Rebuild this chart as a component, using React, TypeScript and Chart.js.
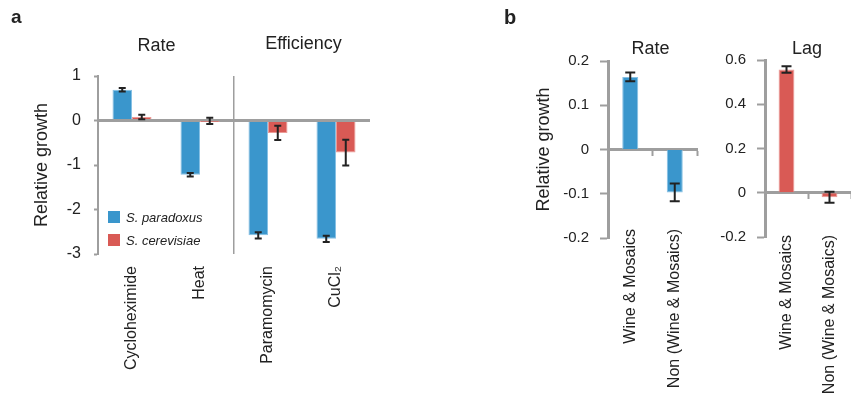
import React, { useEffect, useRef } from 'react';
import { Chart, registerables } from 'chart.js';
Chart.register(...registerables);

const FONT = '"Liberation Sans", Arial, Helvetica, sans-serif';
Chart.defaults.font.family = FONT;

// ---------- data: panel a ----------
const categoriesA = ['Cycloheximide', 'Heat', 'Paramomycin', 'CuCl\u2082'];
const seriesNames = ['S. paradoxus', 'S. cerevisiae'];
const paradoxusA = [0.69, -1.22, -2.58, -2.66];
const paradoxusErrA = [0.04, 0.04, 0.07, 0.07];
const cerevisiaeA = [0.08, -0.01, -0.28, -0.72];
const cerevisiaeErrA = [0.05, 0.07, 0.16, 0.29];
const groupTitlesA = ['Rate', 'Efficiency'];
const groupFirstA = [0, 2];
const groupLastA = [1, 3];
const ticksA = [-3, -2, -1, 0, 1];

// ---------- data: panel b ----------
const categoriesB = ['Wine & Mosaics', 'Non (Wine & Mosaics)'];
const rateB = [0.164, -0.097];
const rateErrB = [0.01, 0.02];
const lagB = [0.557, -0.02];
const lagErrB = [0.015, 0.025];
const ticksRate = [-0.2, -0.1, 0, 0.1, 0.2];
const ticksLag = [-0.2, 0, 0.2, 0.4, 0.6];
const titlesB = ['Rate', 'Lag'];

// ---------- styles ----------
const BLUE = '#3a96cc';
const BLUE_EDGE = '#86c0e4';
const RED = '#d95a55';
const RED_EDGE = '#eb9b97';
const AXIS = '#9e9e9e';
const TEXT = '#222222';

const errorBarPlugin = (cap: number, width: number) => ({
  id: 'errorBars',
  afterDatasetsDraw(chart: any) {
    const ctx = chart.ctx;
    const y = chart.scales.y;
    chart.data.datasets.forEach((ds: any, di: number) => {
      const errs = ds.errors;
      if (!errs) return;
      const meta = chart.getDatasetMeta(di);
      meta.data.forEach((bar: any, i: number) => {
        const v = ds.data[i];
        const e = errs[i];
        const x = bar.x;
        const y1 = y.getPixelForValue(v + e);
        const y2 = y.getPixelForValue(v - e);
        ctx.save();
        ctx.strokeStyle = TEXT;
        ctx.lineWidth = width;
        ctx.beginPath();
        ctx.moveTo(x, y1);
        ctx.lineTo(x, y2);
        ctx.moveTo(x - cap / 2, y1);
        ctx.lineTo(x + cap / 2, y1);
        ctx.moveTo(x - cap / 2, y2);
        ctx.lineTo(x + cap / 2, y2);
        ctx.stroke();
        ctx.restore();
      });
    });
  },
});

type TextItem = { text: string; font: string; x: (c: any) => number; y: number; align?: CanvasTextAlign };
const textPlugin = (items: TextItem[]) => ({
  id: 'panelText',
  afterDraw(chart: any) {
    const ctx = chart.ctx;
    ctx.save();
    ctx.fillStyle = TEXT;
    ctx.textBaseline = 'alphabetic';
    items.forEach((it) => {
      ctx.font = it.font;
      ctx.textAlign = it.align || 'center';
      ctx.fillText(it.text, it.x(chart), it.y);
    });
    ctx.restore();
  },
});

const legendPlugin = (x: number, y: number, gap: number) => ({
  id: 'insideLegend',
  afterDraw(chart: any) {
    const ctx = chart.ctx;
    ctx.save();
    chart.data.datasets.forEach((ds: any, i: number) => {
      const top = y + i * gap;
      ctx.fillStyle = ds.backgroundColor;
      ctx.fillRect(x, top, 12, 12);
      ctx.fillStyle = TEXT;
      ctx.font = `italic 13px ${FONT}`;
      ctx.textAlign = 'left';
      ctx.textBaseline = 'middle';
      ctx.fillText(ds.label, x + 18, top + 7.5);
    });
    ctx.restore();
  },
});

function makeYScale(ticks: number[], o: any) {
  return {
    type: 'linear',
    min: ticks[0],
    max: ticks[ticks.length - 1],
    afterBuildTicks: (s: any) => {
      s.ticks = ticks.map((v) => ({ value: v }));
    },
    afterFit: (s: any) => {
      s.width = o.width;
    },
    ticks: { font: { size: o.fontSize }, color: TEXT, padding: o.padding },
    grid: {
      color: (c: any) => (o.zeroGrid && c.tick && c.tick.value === 0 ? AXIS : 'rgba(0,0,0,0)'),
      lineWidth: (c: any) => (o.zeroGrid && c.tick && c.tick.value === 0 ? 3 : 1),
      tickColor: AXIS,
      tickLength: o.tickLength,
      tickWidth: 2,
    },
    border: { display: true, color: AXIS, width: o.borderWidth },
    title: o.title
      ? {
          display: true,
          text: o.title,
          font: { size: 18 },
          color: TEXT,
          padding: { top: o.titlePad, bottom: 0 },
        }
      : { display: false },
  };
}

function makeLabelScale(labels: string[], fontSize: number, padding: number, position: any, height?: number) {
  return {
    type: 'category',
    position,
    labels,
    offset: true,
    afterFit: (s: any) => {
      if (height !== undefined) s.height = height;
    },
    grid: { display: false },
    border: { display: false },
    ticks: { font: { size: fontSize }, color: TEXT, padding, minRotation: 90, maxRotation: 90, autoSkip: false },
  };
}

function makeZeroScale(labels: string[]) {
  return {
    type: 'category',
    position: { y: 0 },
    labels,
    offset: true,
    ticks: { display: false },
    grid: {
      display: true,
      offset: true,
      drawOnChartArea: false,
      drawTicks: true,
      tickLength: 5,
      tickColor: AXIS,
      tickWidth: 2,
    },
    border: { display: true, color: AXIS, width: 3 },
  };
}

const baseOptions = {
  animation: false,
  responsive: false,
  devicePixelRatio: 1,
};

function configA(): any {
  return {
    type: 'bar',
    data: {
      labels: categoriesA,
      datasets: [
        {
          label: seriesNames[0],
          data: paradoxusA,
          errors: paradoxusErrA,
          backgroundColor: BLUE,
          borderColor: BLUE_EDGE,
          borderWidth: 1,
          categoryPercentage: 0.574,
          barPercentage: 1,
        },
        {
          label: seriesNames[1],
          data: cerevisiaeA,
          errors: cerevisiaeErrA,
          backgroundColor: RED,
          borderColor: RED_EDGE,
          borderWidth: 1,
          categoryPercentage: 0.574,
          barPercentage: 1,
        },
      ],
    },
    options: {
      ...baseOptions,
      layout: { padding: { top: 76, right: 10, left: 0, bottom: 0 } },
      plugins: { legend: { display: false }, tooltip: { enabled: false }, title: { display: false } },
      scales: {
        x: {
          ...makeLabelScale(categoriesA, 16, 12, 'bottom', 140),
          grid: {
            display: true,
            offset: true,
            drawTicks: false,
            color: (c: any) => (c.index === groupFirstA[1] ? AXIS : 'rgba(0,0,0,0)'),
            lineWidth: 1.5,
          },
        },
        y: makeYScale(ticksA, {
          width: 98,
          fontSize: 16,
          padding: 13,
          tickLength: 4,
          borderWidth: 2,
          zeroGrid: true,
          title: 'Relative growth',
          titlePad: 31,
        }),
      },
    },
    plugins: [
      errorBarPlugin(7, 2),
      legendPlugin(108, 211, 23),
      textPlugin([
        { text: 'a', font: `bold 19px ${FONT}`, x: () => 11, y: 23, align: 'left' },
        ...groupTitlesA.map((t, g) => ({
          text: t,
          font: `18px ${FONT}`,
          x: (c: any) =>
            (c.scales.x.getPixelForValue(groupFirstA[g]) + c.scales.x.getPixelForValue(groupLastA[g])) / 2 +
            (g === 0 ? -9.5 : 1.5),
          y: g === 0 ? 51 : 49,
        })),
      ]),
    ],
  };
}

function configB(which: number): any {
  const isRate = which === 0;
  const values = isRate ? rateB : lagB;
  const errs = isRate ? rateErrB : lagErrB;
  const color = isRate ? BLUE : RED;
  const edge = isRate ? BLUE_EDGE : RED_EDGE;
  const ticks = isRate ? ticksRate : ticksLag;
  const extra: TextItem[] = isRate
    ? [{ text: 'b', font: `bold 20px ${FONT}`, x: () => 4, y: 24, align: 'left' }]
    : [];
  return {
    type: 'bar',
    data: {
      labels: categoriesB,
      datasets: [
        {
          label: titlesB[which],
          data: values,
          errors: errs,
          backgroundColor: color,
          borderColor: edge,
          borderWidth: 1,
          categoryPercentage: isRate ? 0.36 : 0.368,
          barPercentage: 1,
          xAxisID: 'x',
        },
      ],
    },
    options: {
      ...baseOptions,
      layout: {
        padding: { top: isRate ? 61 : 60, right: isRate ? 8 : 0, left: 0, bottom: isRate ? 156 : 157 },
      },
      plugins: { legend: { display: false }, tooltip: { enabled: false }, title: { display: false } },
      scales: {
        x: makeLabelScale(categoriesB, 16, isRate ? -17 : -10, { y: ticks[0] }),
        x0: makeZeroScale(categoriesB),
        y: makeYScale(ticks, {
          width: isRate ? 108 : 60,
          fontSize: 15,
          padding: 11,
          tickLength: 8,
          borderWidth: 3,
          zeroGrid: false,
          title: isRate ? 'Relative growth' : '',
          titlePad: 33,
        }),
      },
    },
    plugins: [
      errorBarPlugin(10, 2),
      textPlugin([
        ...extra,
        {
          text: titlesB[which],
          font: `18px ${FONT}`,
          x: (c: any) => (c.chartArea.left + c.chartArea.right) / 2 - (isRate ? 2 : 1),
          y: 54,
        },
      ]),
    ],
  };
}

function ChartCanvas({ config, left, width }: { config: () => any; left: number; width: number }) {
  const ref = useRef<HTMLCanvasElement | null>(null);
  useEffect(() => {
    if (!ref.current) return;
    const chart = new Chart(ref.current, config());
    return () => chart.destroy();
  }, []);
  return (
    <canvas
      ref={ref}
      width={width}
      height={394}
      style={{ position: 'absolute', left, top: 0, width, height: 394, display: 'block' }}
    />
  );
}

export default function App() {
  return (
    <div style={{ position: 'absolute', left: 0, top: 0, width: 851, height: 394, background: '#fff', overflow: 'hidden' }}>
      <ChartCanvas config={configA} left={0} width={380} />
      <ChartCanvas config={() => configB(0)} left={500} width={205} />
      <ChartCanvas config={() => configB(1)} left={705} width={146} />
    </div>
  );
}
